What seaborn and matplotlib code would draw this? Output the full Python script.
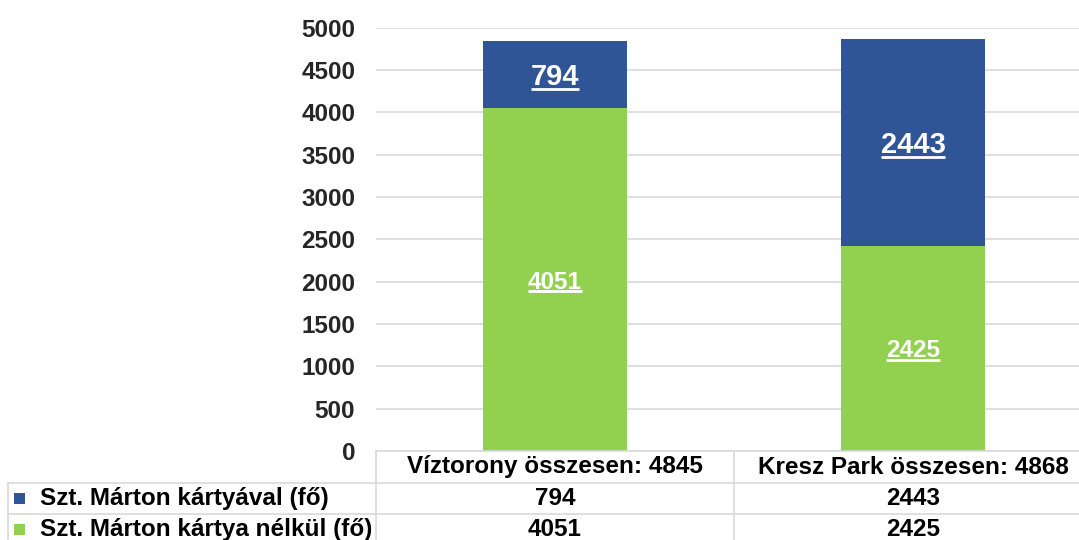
import matplotlib
matplotlib.use("Agg")
import matplotlib.pyplot as plt
import matplotlib.transforms as mtransforms
from matplotlib.lines import Line2D
from matplotlib.patches import Rectangle
import pandas as pd
import seaborn as sns

# ---- data ----
categories = ["Víztorony összesen: 4845", "Kresz Park összesen: 4868"]
with_card = [794, 2443]       # Szt. Márton kártyával (fő)
without_card = [4051, 2425]   # Szt. Márton kártya nélkül (fő)
series_names = ["Szt. Márton kártyával (fő)", "Szt. Márton kártya nélkül (fő)"]
yticks = [0, 500, 1000, 1500, 2000, 2500, 3000, 3500, 4000, 4500, 5000]

BLUE = "#2F5597"
GREEN = "#92D050"
GRID = "#D9D9D9"

sns.set_style("white")
plt.rcParams["font.family"] = ["Liberation Sans", "DejaVu Sans"]
plt.rcParams["font.weight"] = "bold"

W, H = 1079, 540
fig = plt.figure(figsize=(W / 100, H / 100), dpi=100)


def fx(px):
    return px / W


def fy(py):
    return 1 - py / H


ax = fig.add_axes([fx(376), fy(451), fx(1092) - fx(376), fy(27.7) - fy(451)])

df = pd.DataFrame({
    "cat": categories,
    "with": with_card,
    "without": without_card,
})
df["total"] = df["with"] + df["without"]

# stacked: draw the total in blue, then the lower segment in green over it
sns.barplot(data=df, x="cat", y="total", color=BLUE, saturation=1, width=0.4,
            linewidth=0, ax=ax)
sns.barplot(data=df, x="cat", y="without", color=GREEN, saturation=1, width=0.4,
            linewidth=0, ax=ax)

ax.set_xlim(-0.5, 1.5)
ax.set_ylim(0, 5000)
ax.set_yticks(yticks)
ax.set_yticklabels([str(t) for t in yticks], fontsize=17.5, fontweight="bold")
ax.tick_params(axis="y", length=0, pad=15)
ax.set_xticks([])
ax.set_xlabel("")
ax.set_ylabel("")
ax.yaxis.grid(True, color=GRID, linewidth=1.2)
ax.set_axisbelow(True)
for s in ["top", "right", "left"]:
    ax.spines[s].set_visible(False)
ax.spines["bottom"].set_color(GRID)
ax.spines["bottom"].set_linewidth(1.2)

# ---- data labels (white, bold, underlined) ----
labels = []
for i in range(len(categories)):
    labels.append(ax.text(i, without_card[i] + with_card[i] / 2, str(with_card[i]),
                          ha="center", va="center_baseline", color="white",
                          fontsize=21, fontweight="bold"))
    labels.append(ax.text(i, without_card[i] / 2, str(without_card[i]),
                          ha="center", va="center_baseline", color="white",
                          fontsize=17.5, fontweight="bold"))

fig.canvas.draw()
renderer = fig.canvas.get_renderer()
inv = fig.transFigure.inverted()
for t in labels:
    bb = t.get_window_extent(renderer)
    size_px = t.get_fontsize() * 100 / 72
    yline = bb.y0 + 0.09 * size_px
    (x0, y0), (x1, _) = inv.transform([(bb.x0, yline), (bb.x1, yline)])
    fig.add_artist(Line2D([x0, x1], [y0, y0], transform=fig.transFigure,
                          color="white", linewidth=2.0, solid_capstyle="butt"))

# ---- data table ----
def hline(py, x0, x1):
    fig.add_artist(Line2D([fx(x0), fx(x1)], [fy(py), fy(py)],
                          transform=fig.transFigure, color=GRID, linewidth=1.2))


def vline(px, y0, y1):
    fig.add_artist(Line2D([fx(px), fx(px)], [fy(y0), fy(y1)],
                          transform=fig.transFigure, color=GRID, linewidth=1.2))


hline(483, 8, 1092)
hline(514, 8, 1092)
hline(545, 8, 1092)
vline(8, 483, 545)
vline(376, 451, 545)
vline(734, 451, 545)

mixed = mtransforms.blended_transform_factory(ax.transData, fig.transFigure)
row_y = [498.5, 529.5]
row_vals = [with_card, without_card]
row_colors = [BLUE, GREEN]

for i, cat in enumerate(categories):
    fig.text(i, fy(467), cat, transform=mixed, ha="center", va="center",
             fontsize=17.5, fontweight="bold", color="black")

for r in range(2):
    fig.add_artist(Rectangle((fx(14), fy(row_y[r] + 5.5)), fx(11), fy(0) - fy(11),
                             transform=fig.transFigure, color=row_colors[r], lw=0))
    fig.text(fx(40), fy(row_y[r]), series_names[r], ha="left", va="center",
             fontsize=17.5, fontweight="bold", color="black")
    for i, v in enumerate(row_vals[r]):
        fig.text(i, fy(row_y[r]), str(v), transform=mixed, ha="center", va="center",
                 fontsize=17.5, fontweight="bold", color="black")

fig.savefig("out.png", dpi=100, facecolor="white")
